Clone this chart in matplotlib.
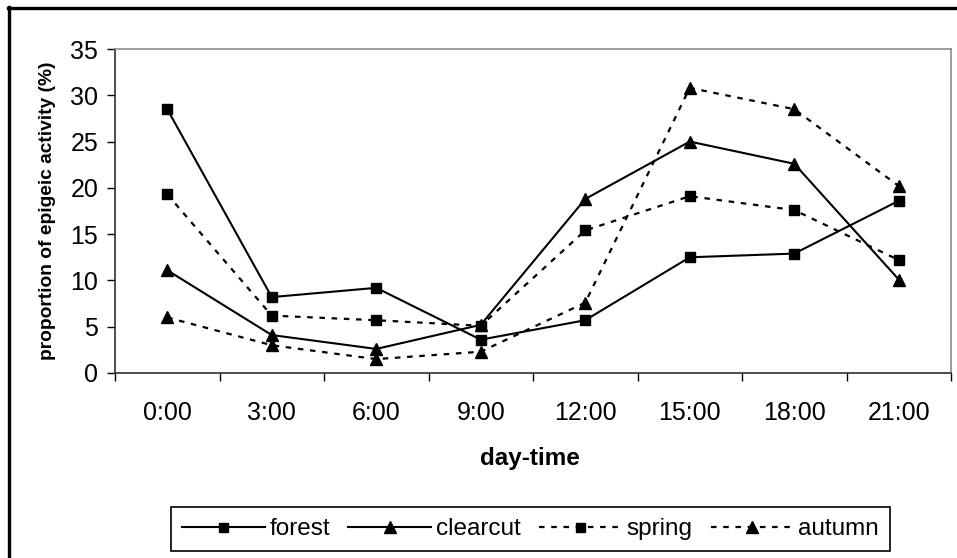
import matplotlib
matplotlib.use("Agg")
import matplotlib.pyplot as plt
import numpy as np
from matplotlib.lines import Line2D

plt.rcParams['font.family'] = ['Liberation Sans', 'DejaVu Sans']

# Datos: proporción de actividad epigea por hora del día
horas = ['0:00', '3:00', '6:00', '9:00', '12:00', '15:00', '18:00', '21:00']
forest = [28.5, 8.2, 9.2, 3.6, 5.7, 12.5, 12.9, 18.6]
clearcut = [11.1, 4.1, 2.6, 5.2, 18.8, 25.0, 22.6, 10.1]
spring = [19.3, 6.2, 5.7, 5.1, 15.4, 19.1, 17.6, 12.2]
autumn = [6.0, 3.0, 1.5, 2.3, 7.6, 30.8, 28.5, 20.2]

W, H = 957, 558
fig = plt.figure(figsize=(W / 100, H / 100), dpi=100)
ax = fig.add_axes([115 / W, 1 - 373 / H, (951 - 115) / W, (373 - 49) / H])

x = np.arange(len(horas))
dash = (0, (2.5, 3))

ax.plot(x, forest, color='black', lw=1.5, marker='s', ms=7.2, label='forest')
ax.plot(x, clearcut, color='black', lw=1.5, marker='^', ms=8.8, label='clearcut')
ax.plot(x, spring, color='black', lw=1.6, ls=dash, marker='s', ms=7.2, label='spring')
ax.plot(x, autumn, color='black', lw=1.6, ls=dash, marker='^', ms=8.8, label='autumn')

# Ejes estilo hoja de cálculo
ax.set_xlim(-0.5, len(horas) - 0.5)
ax.set_ylim(0, 35)
ax.set_yticks(np.arange(0, 36, 5))
ax.set_xticks(x)
ax.set_xticklabels(horas)
ax.set_xticks(np.arange(-0.5, len(horas)), minor=True)
ax.tick_params(axis='x', which='major', length=0, pad=20, labelsize=18)
ax.tick_params(axis='x', which='minor', length=6, width=1, direction='out')
ax.tick_params(axis='y', length=6, width=1, direction='out', pad=6, labelsize=18)

for lado in ['top', 'right']:
    ax.spines[lado].set_color('#8c8c8c')
    ax.spines[lado].set_linewidth(1.2)
for lado in ['left', 'bottom']:
    ax.spines[lado].set_color('#303030')
    ax.spines[lado].set_linewidth(1.2)

ax.set_ylabel('proportion of epigeic activity (%)', fontsize=13.8, fontweight='bold')
ax.yaxis.set_label_coords(-59 / (951 - 115), 0.5)
fig.text(530 / W, 1 - 458 / H, 'day-time', fontsize=17.5, fontweight='bold', ha='center', va='center')

leg = fig.legend(loc='center', bbox_to_anchor=(530.5 / W, 1 - 529 / H), ncol=4,
                 fontsize=17.5, frameon=True, fancybox=False, edgecolor='black',
                 framealpha=1, handlelength=3.4, handletextpad=0.2,
                 columnspacing=0.75, borderpad=0.45)
leg.get_frame().set_linewidth(1.2)
for h in leg.legend_handles:
    h.set_markersize(h.get_markersize() * 0.9)

# Marco exterior del gráfico
fig.add_artist(Line2D([8.5, 8.5], [0, H - 7], transform=None, color='black', lw=2.4))
fig.add_artist(Line2D([7.5, W], [H - 7.5, H - 7.5], transform=None, color='black', lw=2.4))

fig.savefig('out.png', dpi=100)
